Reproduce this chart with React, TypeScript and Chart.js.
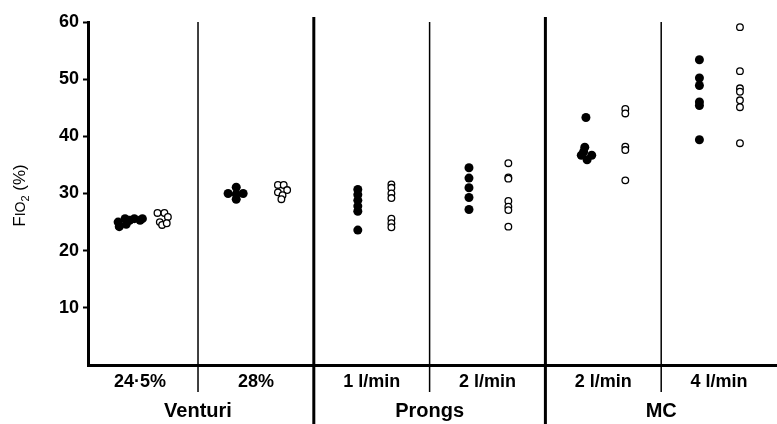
import React, { useEffect, useRef } from "react";
import { Chart, registerables } from "chart.js";

Chart.register(...registerables);

// Category labels along the x axis
const subLabels = ["24·5%", "28%", "1 l/min", "2 l/min", "2 l/min", "4 l/min"];
const groupLabels = ["Venturi", "Prongs", "MC"];
const groupCenters = [1, 3, 5];
const dividerValues = [1, 2, 3, 4, 5];
const majorDividers = [2, 4];
const yTicks = [10, 20, 30, 40, 50, 60];

// FIO2 (%) values, filled circles, per category
const filledValues = [
  [25.0, 24.2, 25.6, 24.6, 25.3, 25.6, 25.3, 25.6],
  [30.0, 29.9, 31.1, 29.0, 30.0],
  [30.7, 29.8, 28.8, 27.8, 26.9, 23.6],
  [34.5, 32.7, 31.0, 29.3, 27.2],
  [43.3, 38.1, 36.7, 36.7, 35.9, 37.3],
  [53.4, 50.2, 48.9, 46.0, 45.4, 39.4],
];
// position of each filled circle within its category (0..1)
const filledPos = [
  [0.31, 0.32, 0.37, 0.38, 0.41, 0.45, 0.5, 0.52],
  [0.26, 0.33, 0.33, 0.33, 0.39],
  [0.38, 0.38, 0.38, 0.38, 0.38, 0.38],
  [0.34, 0.34, 0.34, 0.34, 0.34],
  [0.35, 0.34, 0.31, 0.4, 0.36, 0.33],
  [0.33, 0.33, 0.33, 0.33, 0.33, 0.33],
];

// FIO2 (%) values, open circles, per category
const openValues = [
  [26.6, 26.6, 25.9, 25.0, 24.5, 24.8],
  [31.5, 31.5, 30.6, 30.2, 29.7, 29.0],
  [31.6, 31.0, 30.0, 29.2, 25.6, 24.8, 24.1],
  [35.3, 32.8, 32.6, 28.7, 27.7, 27.1, 24.2],
  [44.8, 44.0, 38.2, 37.6, 32.3],
  [59.1, 51.4, 48.4, 47.8, 46.3, 45.1, 38.8],
];
const openPos = [
  [0.65, 0.71, 0.74, 0.67, 0.69, 0.73],
  [0.69, 0.74, 0.77, 0.69, 0.73, 0.72],
  [0.67, 0.67, 0.67, 0.67, 0.67, 0.67, 0.67],
  [0.68, 0.68, 0.68, 0.68, 0.68, 0.68, 0.68],
  [0.69, 0.69, 0.69, 0.69, 0.69],
  [0.68, 0.68, 0.68, 0.68, 0.68, 0.68, 0.68],
];

const FONT = "'Liberation Sans', Arial, Helvetica, sans-serif";

const toPoints = (vals: number[][], pos: number[][]) =>
  vals.flatMap((arr, i) => arr.map((y, j) => ({ x: i + pos[i][j], y })));

const dividerPlugin = {
  id: "dividers",
  beforeDatasetsDraw(chart: any) {
    const { ctx, chartArea, scales } = chart;
    const xs = scales.x;
    ctx.save();
    ctx.strokeStyle = "#000";
    dividerValues.forEach((v) => {
      const px = xs.getPixelForValue(v);
      const major = majorDividers.includes(v);
      ctx.lineWidth = major ? 3 : 1.5;
      ctx.beginPath();
      ctx.moveTo(px, major ? chartArea.top - 5 : chartArea.top);
      ctx.lineTo(px, major ? chart.height : chartArea.bottom + 27);
      ctx.stroke();
    });
    ctx.restore();
  },
};

const titlePlugin = {
  id: "ytitle",
  afterDraw(chart: any) {
    const { ctx, chartArea } = chart;
    const cy = (chartArea.top + chartArea.bottom) / 2 + 2;
    const parts = [
      { t: "F", f: `17px ${FONT}`, dy: 0 },
      { t: "IO", f: `14px ${FONT}`, dy: 0 },
      { t: "2", f: `11px ${FONT}`, dy: 4 },
      { t: " (%)", f: `17px ${FONT}`, dy: 0 },
    ];
    ctx.save();
    ctx.translate(19, cy);
    ctx.rotate(-Math.PI / 2);
    ctx.fillStyle = "#000";
    ctx.textBaseline = "alphabetic";
    let total = 0;
    parts.forEach((p) => {
      ctx.font = p.f;
      total += ctx.measureText(p.t).width;
    });
    let x = -total / 2;
    parts.forEach((p) => {
      ctx.font = p.f;
      ctx.fillText(p.t, x, 6 + p.dy);
      x += ctx.measureText(p.t).width;
    });
    ctx.restore();
  },
};

export default function App() {
  const ref = useRef<HTMLCanvasElement>(null);

  useEffect(() => {
    const chart = new Chart(ref.current as HTMLCanvasElement, {
      type: "scatter",
      data: {
        datasets: [
          {
            data: toPoints(filledValues, filledPos),
            pointRadius: 4.5,
            pointBackgroundColor: "#000",
            pointBorderColor: "#000",
            pointBorderWidth: 0,
          },
          {
            data: toPoints(openValues, openPos),
            pointRadius: 3.3,
            pointBackgroundColor: "#fff",
            pointBorderColor: "#000",
            pointBorderWidth: 1.3,
          },
        ],
      },
      options: {
        animation: false,
        responsive: false,
        layout: { autoPadding: false, padding: { left: 28, top: 22, right: 0, bottom: 0 } },
        plugins: { legend: { display: false }, tooltip: { enabled: false } },
        scales: {
          x: {
            type: "linear",
            position: "bottom",
            min: 0.05,
            max: 6,
            afterBuildTicks: (s: any) => {
              s.ticks = subLabels.map((_, i) => ({ value: i + 0.5 }));
            },
            afterFit: (s: any) => {
              s.height = 26;
            },
            ticks: {
              autoSkip: false,
              maxRotation: 0,
              padding: 6,
              color: "#000",
              font: { family: FONT, size: 18, weight: "bold" },
              callback: (_v: any, i: number) => subLabels[i],
            },
            grid: { display: false, drawTicks: false },
            border: { display: true, width: 3, color: "#000" },
          },
          x2: {
            type: "linear",
            position: "bottom",
            min: 0.05,
            max: 6,
            afterBuildTicks: (s: any) => {
              s.ticks = groupCenters.map((v) => ({ value: v }));
            },
            afterFit: (s: any) => {
              s.height = 33;
            },
            ticks: {
              autoSkip: false,
              maxRotation: 0,
              padding: 8,
              color: "#000",
              font: { family: FONT, size: 20, weight: "bold" },
              callback: (_v: any, i: number) => groupLabels[i],
            },
            grid: { display: false, drawTicks: false },
            border: { display: false },
          },
          y: {
            type: "linear",
            min: 0,
            max: 60,
            afterBuildTicks: (s: any) => {
              s.ticks = yTicks.map((v) => ({ value: v }));
            },
            afterFit: (s: any) => {
              s.width = 60;
            },
            ticks: {
              padding: 4,
              color: "#000",
              font: { family: FONT, size: 18, weight: "bold" },
            },
            grid: {
              drawOnChartArea: false,
              drawTicks: true,
              tickLength: 5,
              tickWidth: 2,
              tickColor: "#000",
            },
            border: { display: true, width: 3, color: "#000" },
          },
        },
      },
      plugins: [dividerPlugin, titlePlugin],
    });
    return () => chart.destroy();
  }, []);

  return (
    <div
      style={{
        position: "fixed",
        left: 0,
        top: 0,
        width: 777,
        height: 424,
        background: "#fff",
      }}
    >
      <canvas ref={ref} width={777} height={424} style={{ width: 777, height: 424 }} />
    </div>
  );
}
